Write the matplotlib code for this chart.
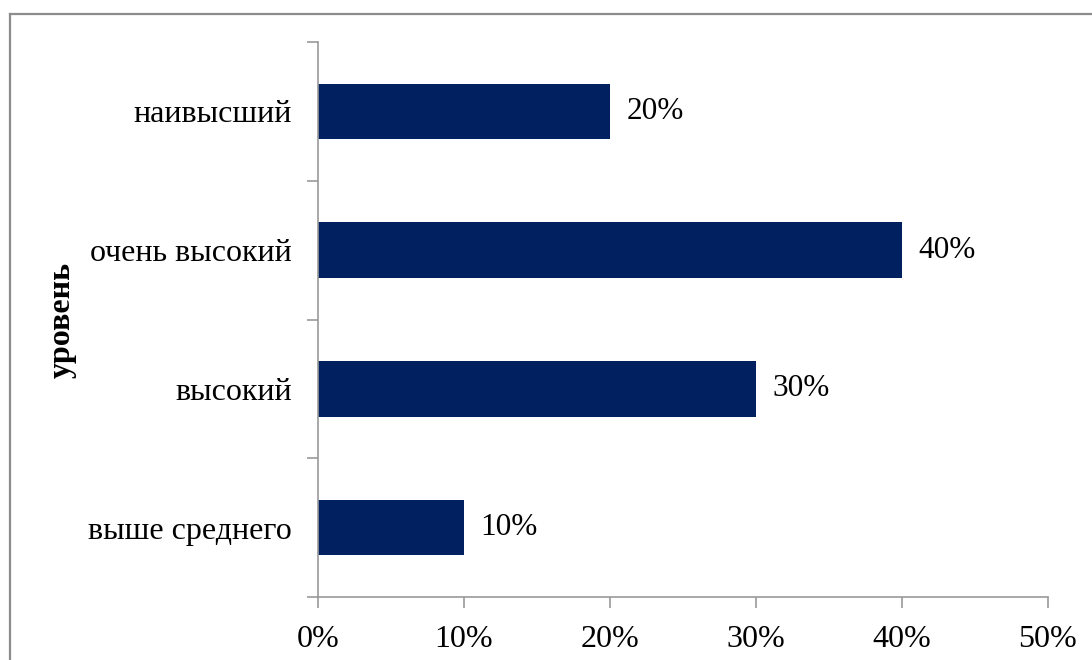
import matplotlib.pyplot as plt
from matplotlib.lines import Line2D
from matplotlib.ticker import FixedLocator, PercentFormatter

categories = ["выше среднего", "высокий", "очень высокий", "наивысший"]
values = [10, 30, 40, 20]
xticks = [0, 10, 20, 30, 40, 50]

plt.rcParams['font.family'] = ['Liberation Serif', 'DejaVu Serif']

fig = plt.figure(figsize=(10.92, 6.6), dpi=100)
ax = fig.add_axes([318 / 1092, 63 / 660, 730 / 1092, 555 / 660])

pos = list(range(len(categories)))
ax.barh(pos, values, height=0.4, color='#002060')

for p, v in zip(pos, values):
    ax.annotate(f"{v}%", (v, p), xytext=(12, 0), textcoords='offset points',
                va='center', ha='left', fontsize=22.5)

ax.set_xlim(0, 50)
ax.set_ylim(-0.5, len(categories) - 0.5)
ax.set_xticks(xticks)
ax.xaxis.set_major_formatter(PercentFormatter(decimals=0))
ax.set_yticks(pos)
ax.set_yticklabels(categories)
ax.tick_params(axis='y', which='major', length=0, pad=19, labelsize=23)
ax.yaxis.set_minor_locator(FixedLocator([i - 0.5 for i in range(len(categories) + 1)]))
ax.tick_params(axis='y', which='minor', length=8, color='#999999', width=1.2)
ax.tick_params(axis='x', length=8, color='#999999', width=1.2, pad=12, labelsize=23)

for s in ['top', 'right']:
    ax.spines[s].set_visible(False)
for s in ['left', 'bottom']:
    ax.spines[s].set_color('#999999')
    ax.spines[s].set_linewidth(1.2)

ax.set_ylabel("уровень", fontsize=23, fontweight='bold')
ax.yaxis.set_label_coords(-0.330, 0.5)

# outer border (open at right and bottom)
fig.add_artist(Line2D([9.5 / 1092, 1], [1 - 13.5 / 660, 1 - 13.5 / 660],
                      transform=fig.transFigure, color='#8c8c8c', lw=1.6))
fig.add_artist(Line2D([9.5 / 1092, 9.5 / 1092], [0, 1 - 13.5 / 660],
                      transform=fig.transFigure, color='#8c8c8c', lw=1.6))

fig.savefig("out.png", dpi=100)
